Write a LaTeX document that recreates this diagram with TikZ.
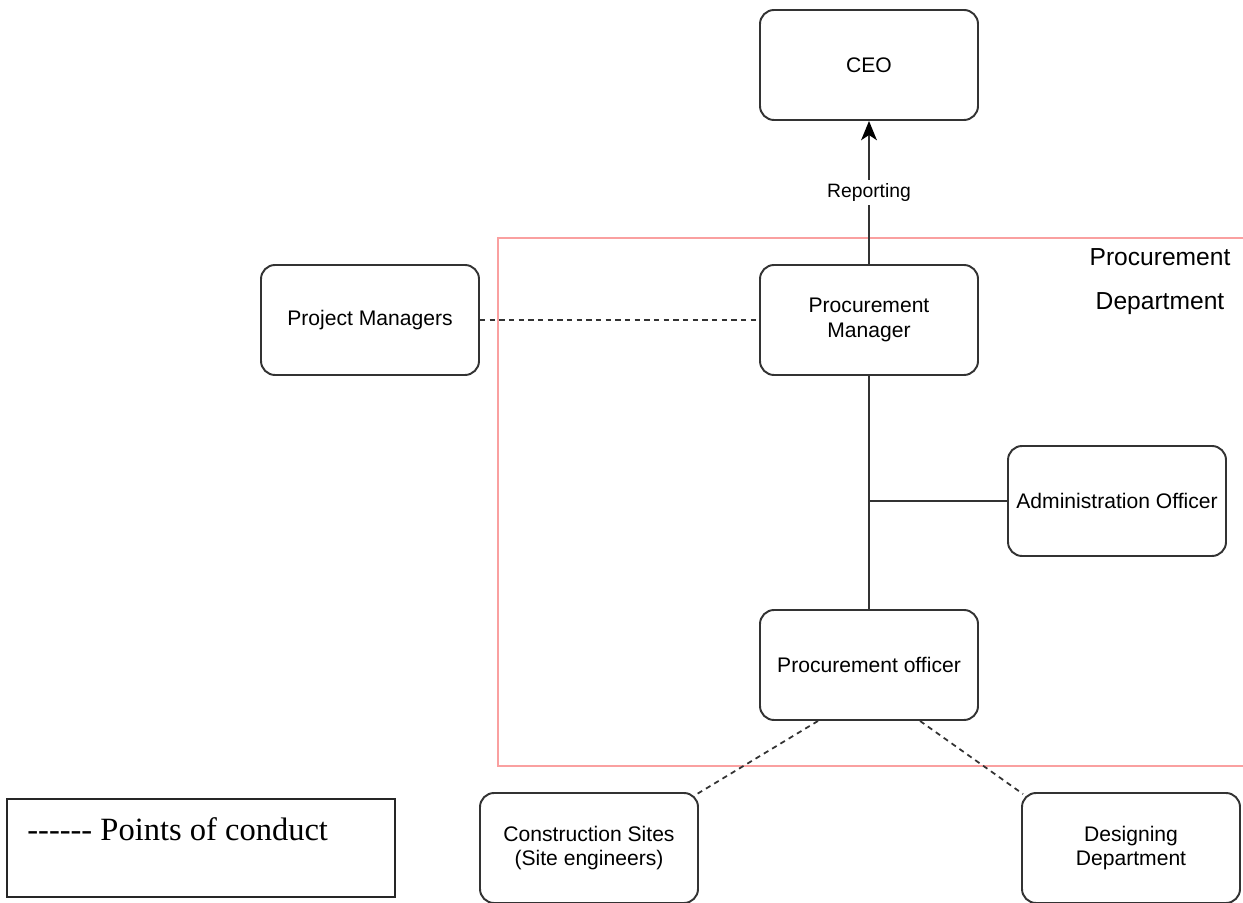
\documentclass[tikz,border=0pt]{standalone}
\usepackage{fontspec}
\setmainfont{Liberation Sans}
\newfontfamily\legendfont{Liberation Serif}
\usepackage{tikz}
\usetikzlibrary{positioning, arrows.meta, calc}

\definecolor{deptred}{RGB}{250,160,160}

\begin{document}
\begin{tikzpicture}[
    unit/.style={rectangle, draw=black!80, line width=1.1pt, rounded corners=8pt,
                 minimum width=4.36cm, minimum height=2.2cm, font=\fontsize{12}{14}\selectfont,
                 fill=white, align=center, inner sep=1pt},
    link/.style={draw=black!80, line width=1pt},
    contact/.style={draw=black!80, line width=1pt, dash pattern=on 3pt off 2.5pt}
]
    \useasboundingbox (0,0) rectangle (24.86,18.04);
    \clip (0,0) rectangle (24.86,18.04);

    % Department frame
    \draw[deptred, line width=1.3pt] (9.96,2.72) rectangle (25.2,13.28);
    \node[font=\fontsize{14}{25}\selectfont, align=center] (dept) at (23.2,12.40)
        {Procurement\\Department};

    % Units
    \node[unit] (ceo) at (17.38,16.74) {CEO};
    \node[unit] (pm) at (17.38,11.64) {Procurement\\Manager};
    \node[unit] (projm) at (7.40,11.64) {Project Managers};
    \node[unit] (admin) at (22.34,8.02) {Administration Officer};
    \node[unit] (po) at (17.38,4.74) {Procurement officer};
    \node[unit] (sites) at (11.78,1.08) {Construction Sites\\(Site engineers)};
    \node[unit] (design) at (22.62,1.08) {Designing\\Department};

    % Reporting lines
    \draw[link, -{Stealth[length=11pt, width=9pt, inset=3pt, color=black]}] (pm) -- (ceo)
        node[midway, fill=white, font=\fontsize{11}{13}\selectfont, inner sep=2pt] (rep) {Reporting};
    \draw[link] (pm) -- (po);
    \draw[link] (admin.west) -- (admin.west -| pm.south);

    % Points of conduct
    \draw[contact] (projm) -- (pm);
    \draw[contact] ($(po.south)+(-1.02,0)$) -- ($(sites.north east)+(-0.04,-0.04)$);
    \draw[contact] ($(po.south)+(1.02,0)$) -- ($(design.north west)+(0.04,-0.04)$);

    % Legend
    \node[draw=black!85, line width=0.8pt, minimum width=7.76cm, minimum height=1.96cm] (legend)
        at (4.02,1.08) {};
    \node[anchor=west, font=\legendfont\fontsize{18.5}{22}\selectfont, inner sep=0pt] (legtext)
        at (0.54,1.46) {------ Points of conduct};

\end{tikzpicture}
\end{document}
